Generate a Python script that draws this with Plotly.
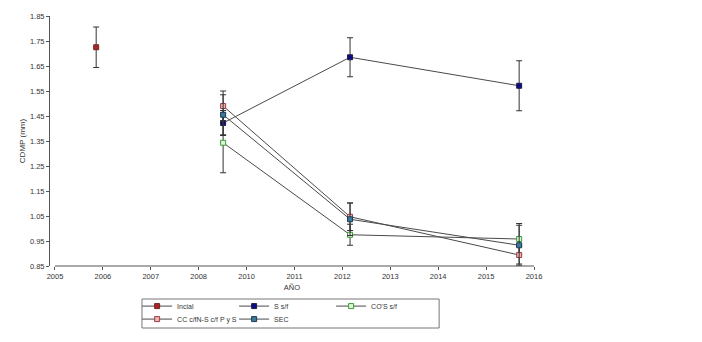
import plotly.graph_objects as go

# Axis tick labels (as printed in the original, evenly spaced)
tick_pos = [0, 1, 2, 3, 4, 5, 6, 7, 8, 9, 10]
tick_text = ["2005", "2006", "2007", "2008", "2010", "2011", "2012", "2013", "2014", "2015", "2016"]
y_ticks = [0.85, 0.95, 1.05, 1.15, 1.25, 1.35, 1.45, 1.55, 1.65, 1.75, 1.85]

# Sampling positions on the x scale
x_inicial = [0.86]
x_sampling = [3.51, 6.16, 9.69]

# Series (mean, error)
inicial_y = [1.725]
inicial_err = [0.081]

s_sf_y = [1.422, 1.685, 1.571]
s_sf_err = [0.05, 0.078, 0.10]

cos_sf_y = [1.343, 0.975, 0.958]
cos_sf_err = [0.12, 0.042, 0.062]

cc_y = [1.490, 1.047, 0.894]
cc_err = [0.06, 0.055, 0.036]

sec_y = [1.455, 1.037, 0.933]
sec_err = [0.08, 0.065, 0.08]

names = ["Incial", "S s/f", "CO'S s/f", "CC c/fN-S c/f P y S", "SEC"]

FONT = "Liberation Sans, Arial, sans-serif"
LINE = "#4a4a4a"
ERR = "#333333"

def trace(x, y, err, name, fill, edge, legend):
    return go.Scatter(
        x=x, y=y, name=name, mode="lines+markers",
        line=dict(color=LINE, width=1),
        marker=dict(symbol="square", size=5, color=fill, line=dict(color=edge, width=1)),
        error_y=dict(type="data", array=err, visible=True, color=ERR, thickness=1, width=3),
        legend=legend,
    )

fig = go.Figure()
fig.add_trace(trace(x_inicial, inicial_y, inicial_err, names[0], "#b22222", "#6a2a2a", "legend"))
fig.add_trace(trace(x_sampling, s_sf_y, s_sf_err, names[1], "#0a0a8a", "#202040", "legend"))
fig.add_trace(trace(x_sampling, cos_sf_y, cos_sf_err, names[2], "#dff5d8", "#3a9a3a", "legend"))
fig.add_trace(trace(x_sampling, cc_y, cc_err, names[3], "#eeb0b0", "#9a4040", "legend2"))
fig.add_trace(trace(x_sampling, sec_y, sec_err, names[4], "#3a7a9a", "#203a50", "legend2"))

legend_common = dict(
    orientation="h", xanchor="left", yanchor="middle", yref="container",
    font=dict(family=FONT, size=7, color="#333"),
    bgcolor="rgba(0,0,0,0)", borderwidth=0,
    entrywidth=52, entrywidthmode="pixels", itemwidth=30,
)

fig.update_layout(
    width=702, height=342,
    margin=dict(l=50, r=168, t=16, b=76, autoexpand=False),
    paper_bgcolor="white", plot_bgcolor="white",
    font=dict(family=FONT, size=7.5, color="#333"),
    showlegend=True,
    legend=dict(x=0.18, y=0.105, **legend_common),
    legend2=dict(x=0.18, y=0.067, **legend_common),
    xaxis=dict(
        range=[-0.104, 10.0], tickmode="array", tickvals=tick_pos, ticktext=tick_text,
        showgrid=False, zeroline=False, showline=False,
        ticks="outside", ticklen=3, tickcolor="#555", tickfont=dict(size=7.5, color="#333"),
        title=dict(text="AÑO", font=dict(size=7.5, color="#333"), standoff=4),
    ),
    yaxis=dict(
        range=[0.85, 1.85], tickmode="array", tickvals=y_ticks,
        tickformat=".2f",
        showgrid=False, zeroline=False, showline=True, linecolor="#555", linewidth=1,
        ticks="outside", ticklen=3, tickcolor="#555", tickfont=dict(size=7.5, color="#333"),
        title=dict(text="CDMP (mm)", font=dict(size=8, color="#333"), standoff=3),
    ),
    shapes=[
        dict(type="line", xref="x", yref="paper", x0=0, x1=10, y0=0, y1=0,
             line=dict(color="#555", width=1)),
        dict(type="rect", xref="paper", yref="paper", x0=0.19, x1=0.804, y0=-0.132, y1=-0.248,
             line=dict(color="#777", width=1), fillcolor="rgba(0,0,0,0)"),
    ],
)

fig.write_html("out.html")
